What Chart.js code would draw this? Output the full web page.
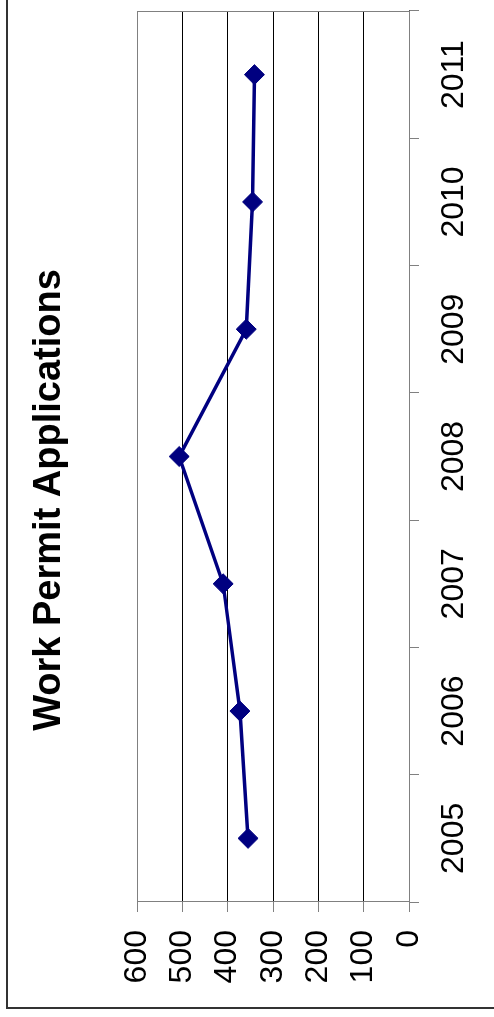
<!DOCTYPE html>
<html>
<head>
<meta charset="utf-8">
<script src="https://cdn.jsdelivr.net/npm/chart.js@4/dist/chart.umd.min.js"></script>
<style>
  html, body { margin: 0; padding: 0; background: #fff; overflow: hidden; }
  body { width: 494px; height: 1017px; position: relative; }
  /* chart is drawn landscape, then turned a quarter to the left */
  #wrap { position: absolute; left: 0; top: 1017px; width: 1017px; height: 494px;
          transform-origin: 0 0; transform: rotate(-90deg); }
</style>
</head>
<body>
<div id="wrap"><canvas id="myChart" width="1017" height="494"></canvas></div>
<script>
var years = ['2005', '2006', '2007', '2008', '2009', '2010', '2011'];
var applications = [355, 373, 410, 507, 359, 345, 341];
var valueTicks = [0, 100, 200, 300, 400, 500, 600];

var fontFamily = '"Liberation Sans", Arial, sans-serif';

// outer frame + grey plot border, like the old spreadsheet chart
var framePlugin = {
  id: 'frame',
  beforeDraw: function (chart) {
    var ctx = chart.ctx;
    ctx.save();
    ctx.fillStyle = '#fff';
    ctx.fillRect(0, 0, chart.width, chart.height);
    ctx.strokeStyle = '#333';
    ctx.lineWidth = 2;
    ctx.strokeRect(9, 7, 2000, 2000);
    ctx.restore();
  },
  beforeDatasetsDraw: function (chart) {
    var a = chart.chartArea, ctx = chart.ctx;
    ctx.save();
    ctx.strokeStyle = '#808080';
    ctx.lineWidth = 1;
    ctx.strokeRect(a.left + 0.5, a.top + 0.5, a.right - a.left - 1, a.bottom - a.top);
    ctx.restore();
  }
};

function renderChart() {
  var ctx = document.getElementById('myChart').getContext('2d');
  new Chart(ctx, {
    type: 'line',
    data: {
      labels: years,
      datasets: [{
        label: 'Work Permit Applications',
        data: applications,
        borderColor: '#000080',
        backgroundColor: '#000080',
        borderWidth: 3.5,
        pointStyle: 'rectRot',
        pointRadius: 10,
        pointBorderWidth: 1,
        tension: 0
      }]
    },
    plugins: [framePlugin],
    options: {
      responsive: false,
      animation: false,
      devicePixelRatio: 1,
      layout: { padding: { left: 24.5, right: 7.5, top: 0, bottom: 0 } },
      plugins: {
        legend: { display: false },
        tooltip: { enabled: false },
        title: {
          display: true,
          text: 'Work Permit Applications',
          color: '#000',
          font: { family: fontFamily, size: 38, weight: 'bold', lineHeight: 1.2 },
          padding: { top: 27, bottom: 64.4 }
        }
      },
      scales: {
        x: {
          offset: true,
          grid: { offset: true, drawOnChartArea: false, drawTicks: true, tickLength: 10, color: '#808080' },
          border: { display: true, color: '#555', width: 1 },
          ticks: { color: '#000', font: { family: fontFamily, size: 32 }, padding: 16.3, maxRotation: 0, autoSkip: false },
          afterFit: function (s) { s.height = 85; }
        },
        y: {
          min: 0,
          max: 600,
          afterBuildTicks: function (s) { s.ticks = valueTicks.map(function (v) { return { value: v }; }); },
          grid: { color: '#000', lineWidth: 1, drawTicks: true, tickLength: 10, tickColor: '#808080' },
          border: { display: true, color: '#555', width: 1 },
          ticks: { color: '#000', font: { family: fontFamily, size: 32 }, padding: 18 },
          afterFit: function (s) { s.width = 90.5; }
        }
      }
    }
  });
}

renderChart();
</script>
</body>
</html>
